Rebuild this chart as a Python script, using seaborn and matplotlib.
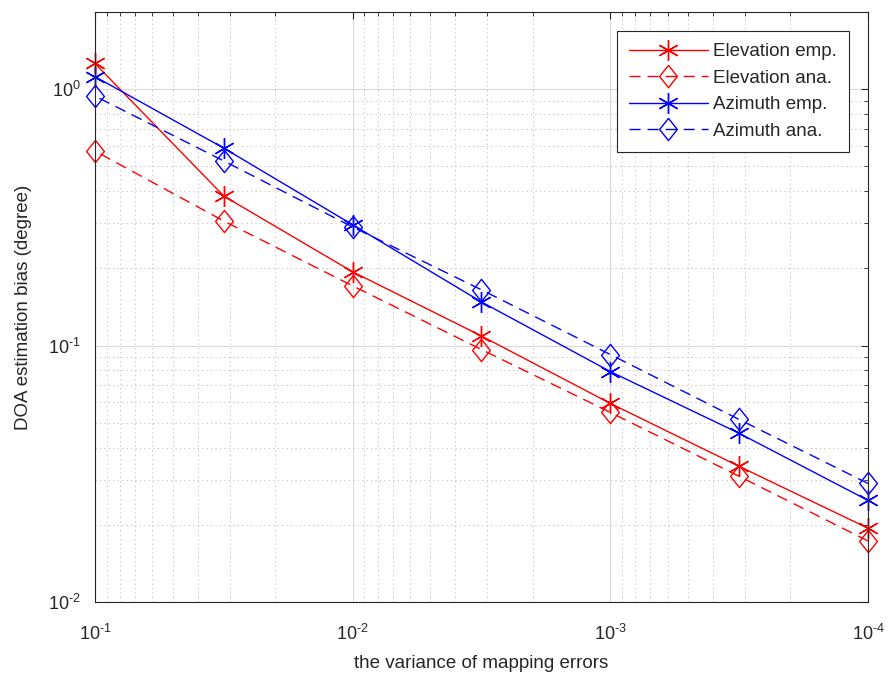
import numpy as np
import pandas as pd
import matplotlib
matplotlib.use("Agg")
import matplotlib.pyplot as plt
import seaborn as sns
from matplotlib.ticker import LogLocator, FuncFormatter, NullFormatter
from matplotlib.path import Path

# Data
variance = [1e-1, 10**-1.5, 1e-2, 10**-2.5, 1e-3, 10**-3.5, 1e-4]
elev_emp = [1.26, 0.383, 0.194, 0.109, 0.0595, 0.0338, 0.0194]
elev_ana = [0.574, 0.306, 0.171, 0.0965, 0.0549, 0.0309, 0.0173]
azi_emp = [1.12, 0.589, 0.296, 0.148, 0.0792, 0.0455, 0.0249]
azi_ana = [0.94, 0.525, 0.290, 0.165, 0.0923, 0.0515, 0.029]
labels = ["Elevation emp.", "Elevation ana.", "Azimuth emp.", "Azimuth ana."]

sns.set_style("white")
plt.rcParams["font.family"] = ["Liberation Sans", "DejaVu Sans"]
plt.rcParams["mathtext.fontset"] = "custom"
plt.rcParams["mathtext.rm"] = "Liberation Sans"
plt.rcParams["mathtext.it"] = "Liberation Sans"

fig = plt.figure(figsize=(8.91, 6.83), dpi=100)
ax = fig.add_axes([0.1066, 0.1186, 0.8676, 0.8638])

asterisk = (6, 2, 0)
diamond = Path([(0, 1), (0.8, 0), (0, -1), (-0.8, 0), (0, 1)],
               [Path.MOVETO, Path.LINETO, Path.LINETO, Path.LINETO, Path.CLOSEPOLY])
dash = (0, (8, 5))
series = [
    (elev_emp, "red", "-", asterisk, 15),
    (elev_ana, "red", dash, diamond, 16),
    (azi_emp, "blue", "-", asterisk, 15),
    (azi_ana, "blue", dash, diamond, 16),
]
for (vals, c, ls, mk, ms), lab in zip(series, labels):
    df = pd.DataFrame({"x": variance, "y": vals})
    sns.lineplot(data=df, x="x", y="y", ax=ax, color=c, linestyle=ls, lw=1.0,
                 marker=mk, markersize=ms, markerfacecolor="none",
                 markeredgecolor=c, markeredgewidth=1.0, label=lab, clip_on=False)

ax.set_xscale("log")
ax.set_yscale("log")
ax.set_xlim(1e-1, 1e-4)
ax.set_ylim(1e-2, 2)


def fmt(v, pos):
    e = int(round(np.log10(v)))
    if e < 0:
        return r"$10^{\text{-}%d}$" % (-e)
    return r"$10^{%d}$" % e


ax.xaxis.set_major_locator(LogLocator(base=10, numticks=10))
ax.yaxis.set_major_locator(LogLocator(base=10, numticks=10))
ax.xaxis.set_minor_locator(LogLocator(base=10, subs=np.arange(2, 10), numticks=20))
ax.yaxis.set_minor_locator(LogLocator(base=10, subs=np.arange(2, 10), numticks=20))
ax.xaxis.set_major_formatter(FuncFormatter(fmt))
ax.yaxis.set_major_formatter(FuncFormatter(fmt))
ax.xaxis.set_minor_formatter(NullFormatter())
ax.yaxis.set_minor_formatter(NullFormatter())

ax.grid(True, which="major", color="#d9d9d9", linestyle="-", linewidth=0.8)
ax.grid(True, which="minor", color="#c0c0c0", linestyle=(0, (1, 3)), linewidth=0.8)
ax.set_axisbelow(True)

ax.tick_params(which="both", direction="in", top=True, right=True, colors="#262626",
               labelsize=13)
ax.tick_params(which="major", length=5)
ax.tick_params(which="minor", length=3)
ax.tick_params(axis="x", pad=16)
ax.tick_params(axis="y", pad=10)
for sp in ax.spines.values():
    sp.set_color("#262626")
    sp.set_linewidth(0.8)

ax.set_xlabel("the variance of mapping errors", fontsize=13.5, color="#262626",
              labelpad=8)
ax.set_ylabel("DOA estimation bias (degree)", fontsize=13.5, color="#262626",
              labelpad=12)

leg = ax.legend(loc="upper right", fontsize=13.5, frameon=True, fancybox=False,
                edgecolor="#262626", framealpha=1, handlelength=4.2,
                borderaxespad=1.0, labelspacing=0.5, handletextpad=0.3,
                borderpad=0.65)
leg.get_frame().set_linewidth(0.8)

fig.savefig("out.png", dpi=100)
